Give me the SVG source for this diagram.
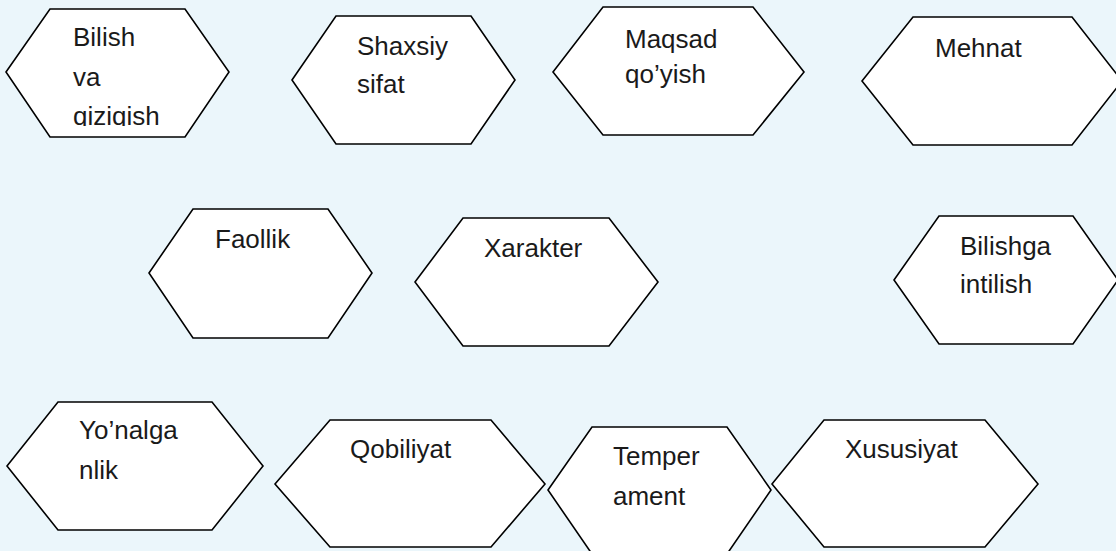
<svg xmlns="http://www.w3.org/2000/svg" width="1116" height="551" viewBox="0 0 1116 551">
<defs>
<style>
.hex{fill:#ffffff;stroke:#000000;stroke-width:1.6;stroke-linejoin:miter}
.t{font-family:"Liberation Sans",Arial,sans-serif;font-size:26px;fill:#1a1a1a}
</style>
<clipPath id="clipQ"><rect x="0" y="0" width="240" height="126"/></clipPath>
</defs>
<rect x="0" y="0" width="1116" height="551" fill="#EBF6FB"/>
<g id="connectors"></g>
<g id="n-bilish">
<polygon class="hex" points="6,72 50,9 185,9 229,72 185,137 50,137"/>
<text class="t" x="73" y="46">Bilish</text>
<text class="t" x="73" y="86">va</text>
<text class="t" x="73" y="125" clip-path="url(#clipQ)">qiziqish</text>
</g>
<g id="n-shaxsiy">
<polygon class="hex" points="292,80 336,16 471,16 515,80 471,144 336,144"/>
<text class="t" x="357" y="55">Shaxsiy</text>
<text class="t" x="357" y="93">sifat</text>
</g>
<g id="n-maqsad">
<polygon class="hex" points="553,72 603,7 753,7 804,72 753,135 603,135"/>
<text class="t" x="625" y="48">Maqsad</text>
<text class="t" x="625" y="83">qo’yish</text>
</g>
<g id="n-mehnat">
<polygon class="hex" points="862,81 913,17 1072,17 1122,81 1072,145 913,145"/>
<text class="t" x="935" y="57">Mehnat</text>
</g>
<g id="n-faollik">
<polygon class="hex" points="149,273 193,209 328,209 372,273 328,338 193,338"/>
<text class="t" x="215" y="248">Faollik</text>
</g>
<g id="n-xarakter">
<polygon class="hex" points="415,282 463,218 609,218 658,282 609,346 463,346"/>
<text class="t" x="484" y="257">Xarakter</text>
</g>
<g id="n-bilishga">
<polygon class="hex" points="894,280 939,216 1073,216 1118,280 1073,344 939,344"/>
<text class="t" x="960" y="255">Bilishga</text>
<text class="t" x="960" y="293">intilish</text>
</g>
<g id="n-yonalganlik">
<polygon class="hex" points="7,466 58,402 212,402 263,466 212,530 58,530"/>
<text class="t" x="79" y="439">Yo’nalga</text>
<text class="t" x="79" y="479">nlik</text>
</g>
<g id="n-qobiliyat">
<polygon class="hex" points="275,484 330,420 491,420 545,484 491,547 330,547"/>
<text class="t" x="350" y="458">Qobiliyat</text>
</g>
<g id="n-temperament">
<polygon class="hex" points="548,490 592,427 727,427 771,490 727,554 592,554"/>
<text class="t" x="613" y="465">Temper</text>
<text class="t" x="613" y="505">ament</text>
</g>
<g id="n-xususiyat">
<polygon class="hex" points="772,484 824,420 985,420 1038,484 985,547 824,547"/>
<text class="t" x="845" y="458">Xususiyat</text>
</g>
</svg>
